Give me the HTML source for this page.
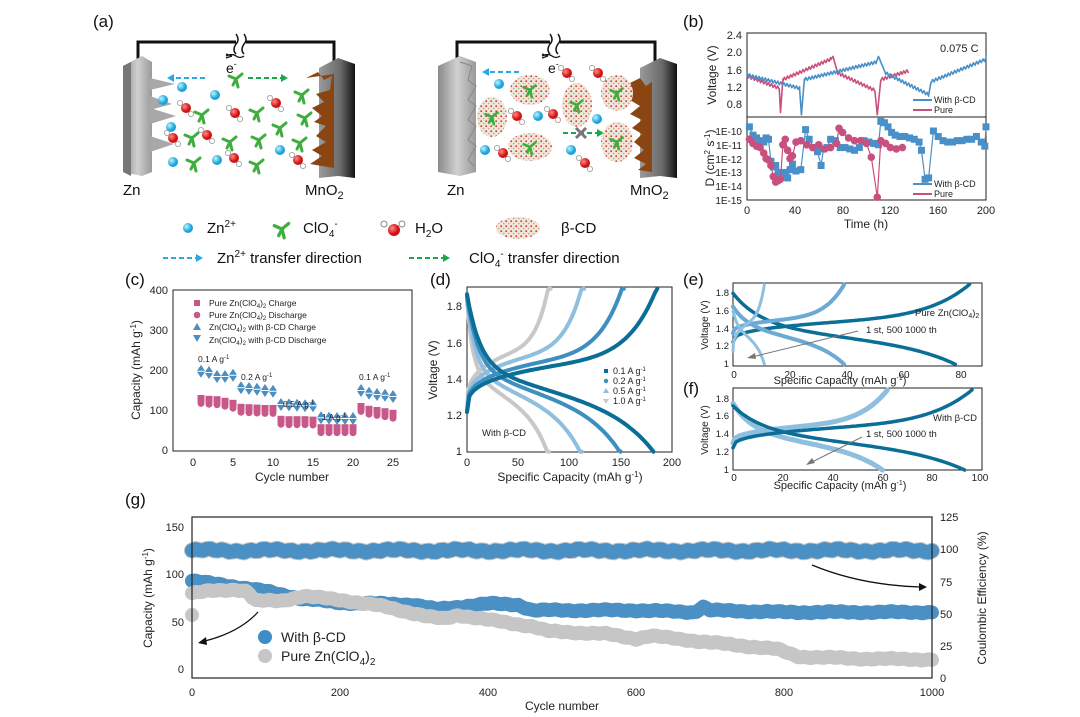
<!DOCTYPE html>
<html><head><meta charset="utf-8"><style>
html,body{margin:0;padding:0;background:#fff;}
svg{display:block;font-family:"Liberation Sans",Arial,sans-serif;}
.t{font-size:11px;fill:#222}
.at{font-size:12px;fill:#222}
.lb{font-size:17px;fill:#111}
.lg{font-size:15px;fill:#111}
</style></head><body>
<svg id="s" width="1080" height="717" viewBox="0 0 1080 717" xmlns="http://www.w3.org/2000/svg">
<defs>
<linearGradient id="gz" x1="0" x2="1"><stop offset="0" stop-color="#8a8a8a"/><stop offset="0.5" stop-color="#d0d0d0"/><stop offset="1" stop-color="#9a9a9a"/></linearGradient>
<linearGradient id="gm" x1="0" x2="1"><stop offset="0" stop-color="#9a9a9a"/><stop offset="0.6" stop-color="#6a6a6a"/><stop offset="1" stop-color="#111"/></linearGradient>
<radialGradient id="gc" cx="0.35" cy="0.35"><stop offset="0" stop-color="#bff3ff"/><stop offset="1" stop-color="#1aa3d8"/></radialGradient>
<radialGradient id="gr" cx="0.35" cy="0.35"><stop offset="0" stop-color="#ff8a8a"/><stop offset="1" stop-color="#d01010"/></radialGradient>
<pattern id="pcd" width="5" height="5" patternUnits="userSpaceOnUse"><rect width="5" height="5" fill="#efe6da"/><circle cx="1.2" cy="1.2" r="0.9" fill="#d43030"/><circle cx="3.7" cy="3.5" r="0.8" fill="#b8a58a"/></pattern>
</defs>
<rect width="1080" height="717" fill="#fff"/>

<!-- (a) -->
<text x="93" y="27" class="lb">(a)</text>
<path d="M138,62 V42 H236 M246,42 H334 V62" stroke="#111" stroke-width="3" fill="none"/>
<path d="M236,34 q4,6 0,10 q-4,6 0,10 M244,34 q4,6 0,10 q-4,6 0,10" stroke="#111" stroke-width="1.5" fill="none"/>
<path d="M457,62 V42 H550 M560,42 H655 V62" stroke="#111" stroke-width="3" fill="none"/>
<path d="M550,34 q4,6 0,10 q-4,6 0,10 M558,34 q4,6 0,10 q-4,6 0,10" stroke="#111" stroke-width="1.5" fill="none"/>
<path d="M232,56 l-6,-2 M232,56 l-6,2 M226,56 q6,-3 10,0 q4,3 8,0" stroke="#111" stroke-width="1.3" fill="none"/>
<text x="226" y="73" font-size="14" fill="#111">e<tspan dy="-6" font-size="9">-</tspan></text>
<path d="M548,56 l-6,-2 M548,56 l-6,2 M542,56 q6,-3 10,0 q4,3 8,0" stroke="#111" stroke-width="1.3" fill="none"/>
<text x="548" y="73" font-size="14" fill="#111">e<tspan dy="-6" font-size="9">-</tspan></text>
<polygon points="123,66 142,56 152,62 152,172 142,176 123,172" fill="url(#gz)"/>
<polygon points="123,66 131,62 131,176 123,172" fill="#777"/>
<g fill="#a8a8a8"><polygon points="150,78 175,84 150,90"/><polygon points="150,96 172,104 150,110"/><polygon points="150,108 176,116 150,124"/><polygon points="150,136 174,144 150,152"/></g>
<polygon points="319,68 338,58 355,64 355,178 338,176 319,178" fill="url(#gm)"/>
<path d="M306,78 l12,-6 l6,8 l8,-4 l-2,14 l-14,4 l8,8 l-12,6 l10,8 l-8,6 l12,4 l-10,10 l10,6 l-14,8 l10,6 l-12,8 l24,4 V74 Z" fill="#8b4513"/>
<polygon points="438,66 460,56 476,62 476,172 460,176 438,172" fill="url(#gz)"/>
<g fill="none" stroke="#888" stroke-width="1"><path d="M460,62 l12,4 l-4,14 l8,6 l-8,14 l8,6 l-8,14 l8,6 l-8,14 l8,6 l-8,14 l6,6"/></g>
<polygon points="640,68 660,58 677,64 677,178 660,176 640,178" fill="url(#gm)"/>
<path d="M628,84 l12,-6 l6,8 l6,-4 v90 l-14,-2 l8,-6 l-12,-6 l10,-8 l-10,-8 l8,-8 l-10,-6 l10,-8 l-12,-6 l10,-8 l-10,-6 Z" fill="#8b4513"/>
<g stroke-width="2" stroke-dasharray="5,3" fill="none">
<path d="M205,78 H172" stroke="#29a9e0"/><path d="M248,78 H282" stroke="#1aa84a"/>
<path d="M519,72 H488" stroke="#29a9e0"/><path d="M563,133 H598" stroke="#1aa84a"/>
</g>
<polygon points="167,78 174,74 174,82" fill="#29a9e0"/><polygon points="288,78 281,74 281,82" fill="#1aa84a"/>
<polygon points="482,72 489,68 489,76" fill="#29a9e0"/><polygon points="604,133 597,129 597,137" fill="#1aa84a"/>
<path d="M576,128 l10,10 M586,128 l-10,10" stroke="#777" stroke-width="3"/>
<g id="ions"></g>
<text x="123" y="195" class="lg">Zn</text>
<text x="305" y="195" class="lg">MnO<tspan dy="4" font-size="11">2</tspan></text>
<text x="447" y="195" class="lg">Zn</text>
<text x="630" y="195" class="lg">MnO<tspan dy="4" font-size="11">2</tspan></text>
<circle cx="188" cy="228" r="5" fill="url(#gc)"/>
<text x="207" y="233" class="lg">Zn<tspan dy="-6" font-size="10">2+</tspan></text>
<g id="lgcl"></g>
<text x="303" y="233" class="lg">ClO<tspan dy="4" font-size="10">4</tspan><tspan dy="-10" font-size="10">-</tspan></text>
<circle cx="384" cy="224" r="3" fill="#fff" stroke="#888"/><circle cx="402" cy="224" r="3" fill="#fff" stroke="#888"/><circle cx="394" cy="230" r="6" fill="url(#gr)"/>
<text x="415" y="233" class="lg">H<tspan dy="4" font-size="10">2</tspan><tspan dy="-4">O</tspan></text>
<ellipse cx="518" cy="228" rx="22" ry="11" fill="url(#pcd)"/>
<text x="561" y="233" class="lg">β-CD</text>
<path d="M163,258 H196" stroke="#29a9e0" stroke-width="2" stroke-dasharray="5,3" fill="none"/><polygon points="203,258 196,254 196,262" fill="#29a9e0"/>
<text x="217" y="263" class="lg">Zn<tspan dy="-6" font-size="10">2+</tspan><tspan dy="6"> transfer direction</tspan></text>
<path d="M409,258 H443" stroke="#1aa84a" stroke-width="2" stroke-dasharray="5,3" fill="none"/><polygon points="450,258 443,254 443,262" fill="#1aa84a"/>
<text x="469" y="263" class="lg">ClO<tspan dy="4" font-size="10">4</tspan><tspan dy="-10" font-size="10">-</tspan><tspan dy="6"> transfer direction</tspan></text>

<!-- (b) -->
<text x="683" y="27" class="lb">(b)</text>
<rect x="747" y="33" width="239" height="84" fill="none" stroke="#222"/>
<rect x="747" y="117" width="239" height="83" fill="none" stroke="#222"/>
<g class="t" text-anchor="end">
<text x="742" y="39">2.4</text><text x="742" y="56">2.0</text><text x="742" y="74">1.6</text><text x="742" y="91">1.2</text><text x="742" y="108">0.8</text>
</g>
<g font-size="10" fill="#222" text-anchor="end">
<text x="742" y="135">1E-10</text><text x="742" y="149">1E-11</text><text x="742" y="163">1E-12</text><text x="742" y="176">1E-13</text><text x="742" y="190">1E-14</text><text x="742" y="204">1E-15</text>
</g>
<g class="t" text-anchor="middle"><text x="747" y="214">0</text><text x="795" y="214">40</text><text x="843" y="214">80</text><text x="890" y="214">120</text><text x="938" y="214">160</text><text x="986" y="214">200</text></g>
<text x="866" y="228" class="at" text-anchor="middle">Time (h)</text>
<text transform="translate(716,75) rotate(-90)" class="at" text-anchor="middle">Voltage (V)</text>
<text transform="translate(714,158) rotate(-90)" class="at" text-anchor="middle">D (cm<tspan dy="-4" font-size="8">2</tspan><tspan dy="4"> s</tspan><tspan dy="-4" font-size="8">-1</tspan><tspan dy="4">)</tspan></text>
<text x="940" y="52" class="t">0.075 C</text>
<g id="pb"></g>
<path d="M913,100 H932" stroke="#4a90c8" stroke-width="2"/><text x="934" y="103" font-size="9" fill="#222">With β-CD</text>
<path d="M913,110 H932" stroke="#c8507f" stroke-width="2"/><text x="934" y="113" font-size="9" fill="#222">Pure</text>
<path d="M913,184 H932" stroke="#4a90c8" stroke-width="2"/><text x="934" y="187" font-size="9" fill="#222">With β-CD</text>
<path d="M913,194 H932" stroke="#c8507f" stroke-width="2"/><text x="934" y="197" font-size="9" fill="#222">Pure</text>

<!-- (c) -->
<text x="125" y="285" class="lb">(c)</text>
<rect x="173" y="290" width="239" height="161" fill="none" stroke="#222"/>
<g class="t" text-anchor="end"><text x="168" y="294">400</text><text x="168" y="334">300</text><text x="168" y="374">200</text><text x="168" y="414">100</text><text x="168" y="454">0</text></g>
<g class="t" text-anchor="middle"><text x="193" y="466">0</text><text x="233" y="466">5</text><text x="273" y="466">10</text><text x="313" y="466">15</text><text x="353" y="466">20</text><text x="393" y="466">25</text></g>
<text x="292" y="481" class="at" text-anchor="middle">Cycle number</text>
<text transform="translate(140,370) rotate(-90)" class="at" text-anchor="middle">Capacity (mAh g<tspan dy="-4" font-size="8">-1</tspan><tspan dy="4">)</tspan></text>
<g id="pc"></g>
<g font-size="8.5" fill="#222">
<text x="209" y="306">Pure Zn(ClO<tspan dy="2" font-size="6">4</tspan><tspan dy="-2">)</tspan><tspan dy="2" font-size="6">2</tspan><tspan dy="-2"> Charge</tspan></text>
<text x="209" y="318">Pure Zn(ClO<tspan dy="2" font-size="6">4</tspan><tspan dy="-2">)</tspan><tspan dy="2" font-size="6">2</tspan><tspan dy="-2"> Discharge</tspan></text>
<text x="209" y="330">Zn(ClO<tspan dy="2" font-size="6">4</tspan><tspan dy="-2">)</tspan><tspan dy="2" font-size="6">2</tspan><tspan dy="-2"> with β-CD Charge</tspan></text>
<text x="209" y="343">Zn(ClO<tspan dy="2" font-size="6">4</tspan><tspan dy="-2">)</tspan><tspan dy="2" font-size="6">2</tspan><tspan dy="-2"> with β-CD Discharge</tspan></text>
<text x="198" y="362">0.1 A g<tspan dy="-3" font-size="6">-1</tspan></text>
<text x="241" y="380">0.2 A g<tspan dy="-3" font-size="6">-1</tspan></text>
<text x="283" y="407">0.5 A g<tspan dy="-3" font-size="6">-1</tspan></text>
<text x="322" y="420">1 A g<tspan dy="-3" font-size="6">-1</tspan></text>
<text x="359" y="380">0.1 A g<tspan dy="-3" font-size="6">-1</tspan></text>
</g>

<!-- (d) -->
<text x="430" y="285" class="lb">(d)</text>
<rect x="467" y="287" width="205" height="165" fill="none" stroke="#222"/>
<g class="t" text-anchor="end"><text x="462" y="310">1.8</text><text x="462" y="347">1.6</text><text x="462" y="383">1.4</text><text x="462" y="419">1.2</text><text x="462" y="455">1</text></g>
<g class="t" text-anchor="middle"><text x="467" y="466">0</text><text x="518" y="466">50</text><text x="569" y="466">100</text><text x="621" y="466">150</text><text x="672" y="466">200</text></g>
<text x="570" y="481" class="at" text-anchor="middle">Specific Capacity (mAh g<tspan dy="-4" font-size="8">-1</tspan><tspan dy="4">)</tspan></text>
<text transform="translate(437,370) rotate(-90)" class="at" text-anchor="middle">Voltage (V)</text>
<g id="pd"></g>
<text x="482" y="436" font-size="9.5" fill="#222">With β-CD</text>
<g font-size="9" fill="#222">
<rect x="604" y="369" width="4" height="4" fill="#0b6e96"/><text x="613" y="374">0.1 A g<tspan dy="-3" font-size="6">-1</tspan></text>
<circle cx="606" cy="381" r="2.2" fill="#3d8fbf"/><text x="613" y="384">0.2 A g<tspan dy="-3" font-size="6">-1</tspan></text>
<polygon points="606,388 609,393 603,393" fill="#8fbedf"/><text x="613" y="394">0.5 A g<tspan dy="-3" font-size="6">-1</tspan></text>
<polygon points="603,399 609,399 606,404" fill="#c8c8c8"/><text x="613" y="404">1.0 A g<tspan dy="-3" font-size="6">-1</tspan></text>
</g>

<!-- (e) -->
<text x="683" y="285" class="lb">(e)</text>
<rect x="733" y="283" width="249" height="83" fill="none" stroke="#222"/>
<g font-size="9.5" fill="#222" text-anchor="end"><text x="729" y="296">1.8</text><text x="729" y="314">1.6</text><text x="729" y="332">1.4</text><text x="729" y="349">1.2</text><text x="729" y="367">1</text></g>
<g font-size="10" fill="#222" text-anchor="middle"><text x="734" y="378">0</text><text x="790" y="378">20</text><text x="847" y="378">40</text><text x="904" y="378">60</text><text x="961" y="378">80</text></g>
<text x="840" y="384" font-size="11" fill="#222" text-anchor="middle">Specific Capacity (mAh g<tspan dy="-4" font-size="7">-1</tspan><tspan dy="4">)</tspan></text>
<text transform="translate(708,325) rotate(-90)" font-size="10" fill="#222" text-anchor="middle">Voltage (V)</text>
<g id="pe"></g>
<text x="915" y="316" font-size="9.5" fill="#222">Pure Zn(ClO<tspan dy="2" font-size="7">4</tspan><tspan dy="-2">)</tspan><tspan dy="2" font-size="7">2</tspan></text>
<text x="866" y="333" font-size="9.5" fill="#222">1 st, 500 1000 th</text>
<path d="M858,331 L752,357" stroke="#777" stroke-width="1"/><polygon points="747,358 755,353 756,359" fill="#777"/>
<!-- (f) -->
<text x="683" y="394" class="lb">(f)</text>
<rect x="733" y="388" width="249" height="82" fill="none" stroke="#222"/>
<g font-size="9.5" fill="#222" text-anchor="end"><text x="729" y="402">1.8</text><text x="729" y="419">1.6</text><text x="729" y="437">1.4</text><text x="729" y="455">1.2</text><text x="729" y="473">1</text></g>
<g font-size="10" fill="#222" text-anchor="middle"><text x="734" y="481">0</text><text x="783" y="481">20</text><text x="833" y="481">40</text><text x="883" y="481">60</text><text x="932" y="481">80</text><text x="980" y="481">100</text></g>
<text x="840" y="489" font-size="11" fill="#222" text-anchor="middle">Specific Capacity (mAh g<tspan dy="-4" font-size="7">-1</tspan><tspan dy="4">)</tspan></text>
<text transform="translate(708,430) rotate(-90)" font-size="10" fill="#222" text-anchor="middle">Voltage (V)</text>
<g id="pf"></g>
<text x="933" y="421" font-size="9.5" fill="#222">With β-CD</text>
<text x="866" y="437" font-size="9.5" fill="#222">1 st, 500 1000 th</text>
<path d="M862,437 L812,462" stroke="#777" stroke-width="1"/><polygon points="806,465 812,458 815,463" fill="#777"/>

<!-- (g) -->
<text x="125" y="505" class="lb">(g)</text>
<g id="pg"></g>
<rect x="192" y="517" width="740" height="161" fill="none" stroke="#222" stroke-width="1.2"/>
<g class="t" text-anchor="end" font-size="12"><text x="184" y="531">150</text><text x="184" y="578">100</text><text x="184" y="626">50</text><text x="184" y="673">0</text></g>
<g class="t" font-size="12"><text x="940" y="521">125</text><text x="940" y="553">100</text><text x="940" y="586">75</text><text x="940" y="618">50</text><text x="940" y="650">25</text><text x="940" y="682">0</text></g>
<g class="t" font-size="12" text-anchor="middle"><text x="192" y="696">0</text><text x="340" y="696">200</text><text x="488" y="696">400</text><text x="636" y="696">600</text><text x="784" y="696">800</text><text x="932" y="696">1000</text></g>
<text x="562" y="710" class="at" text-anchor="middle">Cycle number</text>
<text transform="translate(152,598) rotate(-90)" class="at" text-anchor="middle">Capacity (mAh g<tspan dy="-4" font-size="8">-1</tspan><tspan dy="4">)</tspan></text>
<text transform="translate(986,598) rotate(-90)" class="at" text-anchor="middle">Coulombic Efficiency (%)</text>
<circle cx="265" cy="637" r="7" fill="#3f8cc6"/><text x="281" y="642" font-size="14" fill="#222">With β-CD</text>
<circle cx="265" cy="656" r="7" fill="#c6c6c6"/><text x="281" y="661" font-size="14" fill="#222">Pure Zn(ClO<tspan dy="4" font-size="10">4</tspan><tspan dy="-4">)</tspan><tspan dy="4" font-size="10">2</tspan></text>
<path d="M258,612 Q240,632 205,641" stroke="#111" stroke-width="1.3" fill="none"/><polygon points="198,643 206,637 207,645" fill="#111"/>
<path d="M812,565 Q860,585 920,587" stroke="#111" stroke-width="1.3" fill="none"/><polygon points="927,587 919,583 919,591" fill="#111"/>
</svg>
<script>
function add(id,h){document.getElementById(id).insertAdjacentHTML("beforeend",h);}
function poly(pts,c,w,extra){return '<polyline fill="none" stroke="'+c+'" stroke-width="'+w+'" stroke-linejoin="round" stroke-linecap="round" '+(extra||'')+' points="'+pts.map(function(p){return p[0].toFixed(1)+','+p[1].toFixed(1)}).join(' ')+'"/>';}
function cross(x,y,s){s=s||1;return '<g transform="translate('+x+','+y+') scale('+s+')" stroke="#3fae3f" stroke-width="3" stroke-linecap="round"><path d="M0,0 L-7,-3 M0,0 L6,-5 M0,0 L2,8 M0,0 L-3,6"/></g>';}
function water(x,y){return '<circle cx="'+(x-6)+'" cy="'+(y-5)+'" r="2.6" fill="#fff" stroke="#999" stroke-width="0.8"/><circle cx="'+(x+5)+'" cy="'+(y+6)+'" r="2.6" fill="#fff" stroke="#999" stroke-width="0.8"/><circle cx="'+x+'" cy="'+y+'" r="5" fill="url(#gr)"/>';}
function zn(x,y){return '<circle cx="'+x+'" cy="'+y+'" r="5" fill="url(#gc)"/>';}
var h='';
[[182,87],[163,100],[215,95],[171,127],[173,162],[217,160],[280,150]].forEach(function(p){h+=zn(p[0],p[1]);});
[[236,79],[302,95],[202,115],[257,113],[305,118],[280,128],[192,138],[230,142],[259,140],[300,143],[194,163],[257,165]].forEach(function(p){h+=cross(p[0],p[1]);});
[[186,108],[235,113],[276,103],[207,135],[173,138],[234,158],[298,160]].forEach(function(p){h+=water(p[0],p[1]);});
[[530,90,20,15],[492,117,15,20],[577,105,15,22],[617,93,16,18],[530,147,22,14],[617,142,16,20]].forEach(function(p){h+='<ellipse cx="'+p[0]+'" cy="'+p[1]+'" rx="'+p[2]+'" ry="'+p[3]+'" fill="url(#pcd)"/>'+cross(p[0],p[1],0.9);});
[[499,84],[538,116],[597,119],[485,150],[571,150]].forEach(function(p){h+=zn(p[0],p[1]);});
[[567,73],[598,73],[517,116],[553,114],[503,153],[585,163]].forEach(function(p){h+=water(p[0],p[1]);});
add('ions',h);
add('lgcl',cross(282,229,1.1));
function bx(t){return 747+1.195*t;} function bv(v){return 34.7+(2.4-v)*43.3;} function bd(l){return 131+(-10-l)*13.8;}
function saw(segs){var pts=[];segs.forEach(function(s){var t0=s[0],t1=s[1],v0=s[2],v1=s[3];var n=Math.max(2,Math.round((t1-t0)/1.3));for(var i=0;i<=n;i++){var t=t0+(t1-t0)*i/n;var v=v0+(v1-v0)*i/n;if(s[4])v+=(i%2?0.05:-0.02);pts.push([bx(t),bv(v)]);}});return pts;}
var blue=saw([[0,1,1.5,1.48,0],[1,44,1.45,1.15,1],[44,45.5,1.15,0.55,0],[45.5,48,0.55,1.38,0],[48,108,1.35,1.75,1],[108,110,1.75,1.9,0],[110,116,1.9,1.5,0],[116,152,1.5,1.0,1],[152,154,1.0,1.3,0],[154,200,1.3,1.82,1],[200,200,1.82,1.9,0]]);
var pink=saw([[0,1,1.45,1.42,0],[1,27,1.42,1.15,1],[27,28,1.15,0.6,0],[28,30,0.6,1.38,0],[30,70,1.35,1.82,1],[70,72,1.82,1.9,0],[72,76,1.9,1.5,0],[76,107,1.5,1.1,1],[107,109,1.1,0.55,0],[109,112,0.55,1.35,0],[112,135,1.35,1.55,1]]);
var bh=poly(pink,'#c8507f',1.6)+poly(blue,'#4a90c8',1.6);
var Db=[[2,-9.7],[5,-10.3],[8,-10.5],[11,-10.7],[14,-10.8],[16,-10.5],[18,-10.6],[20,-12.2],[22,-12.6],[24,-12.5],[26,-13.0],[28,-13.1],[30,-13.2],[32,-13.0],[34,-13.4],[36,-12.8],[38,-12.4],[41,-12.9],[45,-12.8],[49,-9.9],[52,-10.6],[56,-11.2],[59,-11.5],[62,-12.5],[64,-11.3],[67,-11.2],[70,-10.6],[74,-10.7],[78,-11.2],[82,-11.2],[86,-11.3],[90,-11.4],[94,-11.2],[98,-10.7],[102,-10.8],[106,-10.9],[110,-11.0],[112,-9.3],[115,-9.4],[118,-9.7],[121,-10.1],[124,-10.3],[128,-10.4],[132,-10.4],[136,-10.5],[140,-10.6],[144,-10.8],[146,-11.4],[149,-13.5],[152,-13.4],[156,-10.0],[160,-10.4],[164,-10.7],[168,-10.8],[172,-10.8],[176,-10.7],[180,-10.7],[184,-10.6],[188,-10.6],[192,-10.4],[196,-10.8],[199,-11.1],[200,-9.7]];
var Dp=[[2,-10.6],[5,-10.9],[8,-11.1],[11,-11.2],[14,-11.6],[16,-12.0],[18,-12.1],[20,-12.5],[22,-13.3],[24,-13.7],[26,-13.6],[28,-13.5],[30,-11.0],[32,-10.6],[34,-11.4],[36,-12.0],[38,-11.8],[41,-10.8],[45,-10.7],[50,-11.0],[55,-11.2],[60,-11.0],[65,-11.3],[70,-11.2],[75,-10.9],[77,-9.8],[80,-10.1],[85,-10.5],[90,-10.7],[95,-10.7],[100,-10.9],[104,-11.9],[109,-14.8],[112,-10.7],[116,-10.9],[120,-11.2],[125,-11.3],[130,-11.2]];
bh+=poly(Db.map(function(p){return[bx(p[0]),bd(p[1])]}),'#4a90c8',1.2);
Db.forEach(function(p){bh+='<rect x="'+(bx(p[0])-3.5)+'" y="'+(bd(p[1])-3.5)+'" width="7" height="7" fill="#4a90c8"/>';});
bh+=poly(Dp.map(function(p){return[bx(p[0]),bd(p[1])]}),'#c8507f',1.2);
Dp.forEach(function(p){bh+='<circle cx="'+bx(p[0])+'" cy="'+bd(p[1])+'" r="3.8" fill="#c8507f"/>';});
add('pb',bh);
function cx(c){return 193+8*c;} function cy(v){return 450-0.4*v;}
var pc=[125,123,122,118,113,103,102,101,100,100,73,72,72,72,71,52,52,52,52,52,105,98,95,92,88];
var bc=[198,195,185,185,188,157,155,153,150,148,115,114,113,112,112,82,81,80,80,80,150,143,140,138,135];
var ch='<rect x="194" y="300" width="6" height="6" fill="#c8578a"/><circle cx="197" cy="315" r="3.3" fill="#c8578a"/><polygon points="197,323 201,330 193,330" fill="#4a8fc4"/><polygon points="193,335 201,335 197,342" fill="#4a8fc4"/>';
pc.forEach(function(v,i){var x=cx(i+1);ch+='<rect x="'+(x-3.5)+'" y="'+(cy(v)-5)+'" width="7" height="7" fill="#c8578a"/><circle cx="'+x+'" cy="'+(cy(v-6)+1)+'" r="3.5" fill="#c8578a"/>';});
bc.forEach(function(v,i){var x=cx(i+1),y=cy(v);ch+='<polygon points="'+x+','+(y-6)+' '+(x+4)+','+(y)+' '+(x-4)+','+y+'" fill="#4a8fc4"/><polygon points="'+(x-4)+','+(y+1)+' '+(x+4)+','+(y+1)+' '+x+','+(y+7)+'" fill="#4a8fc4"/>';});
add('pc',ch);
function dX(q){return 467+1.025*q;} function dY(v){return 451.7-(v-1)*181;}
var dh='';
[[80,'#c8c8c8'],[112,'#8fbedf'],[150,'#3d8fbf'],[182,'#0b6e96']].forEach(function(a){var Q=a[0],c=a[1],ch_=[],dc=[];var s=Q/182;
for(var i=0;i<=80;i++){var x=i/80;var v=1.22+0.32*Math.pow(x,0.3)+0.37*Math.pow(x,7)+(1-s)*0.12*Math.pow(x,0.2);if(v>1.9)v=1.9;ch_.push([dX(Q*1.02*x),dY(v)]);
var w=1.47+0.4*Math.exp(-x/0.07)-0.3*x-0.17*Math.pow(x,6)-(1-s)*0.05;dc.push([dX(Q*x),dY(Math.max(1,Math.min(1.9,w)))]);}
dh+=poly(ch_,c,4)+poly(dc,c,4);});
add('pd',dh);
function curves(id,X,Y,list){var h='';list.forEach(function(a){var Qc=a[0],Qd=a[1],c=a[2],v0=a[3],vd=a[4],w=a[5];var p1=[],p2=[];for(var i=0;i<=80;i++){var x=i/80;var v=v0+(1.55-v0)*Math.pow(x,0.35)+0.35*Math.pow(x,6);p1.push([X(Qc*x),Y(Math.min(1.9,v))]);
var u=1.45+(vd-1.45)*Math.exp(-x/0.12)-0.3*x-0.15*Math.pow(x,6);p2.push([X(Qd*x),Y(Math.max(1,Math.min(1.9,u)))]);}
h+=poly(p1,c,w)+poly(p2,c,w);});add(id,h);}
curves('pe',function(q){return 733+2.85*q},function(v){return 364.3-(v-1)*88.75},[[83,78,'#0b6e96',1.25,1.8,3.5],[39,39,'#6aaad4',1.35,1.65,4],[11,11,'#8fc0e0',1.15,1.6,3]]);
curves('pf',function(q){return 733+2.49*q},function(v){return 470-(v-1)*89},[[62,60,'#8fbedf',1.3,1.75,5],[96,93,'#0b6e96',1.25,1.72,3.5]]);
function gx(c){return 192+0.74*c;} function gc(v){return 669-0.947*v;} function ge(v){return 678-1.288*v;}
function band(f,fy,n,amp){var p=[];for(var i=0;i<=n;i++){var c=1000*i/n;p.push([gx(c),fy(f(c)+(Math.sin(i*1.7)+Math.sin(i*0.37))*amp)]);}return p;}
function interp(pts){return function(c){for(var i=1;i<pts.length;i++){if(c<=pts[i][0]){var a=pts[i-1],b=pts[i];return a[1]+(b[1]-a[1])*(c-a[0])/(b[0]-a[0]);}}return pts[pts.length-1][1];};}
var gh='';
gh+=poly(band(function(){return 99},ge,200,0.8),'#c2c2c2',16);
gh+=poly(band(function(){return 99},ge,200,0.8),'#4a90c4',14);
var fb=interp([[0,93],[50,88],[100,82],[150,74],[200,70],[300,68],[330,63],[400,69],[440,68],[460,62],[600,62],[680,60],[690,66],[700,62],[800,60],[1000,60]]);
var fg=interp([[0,80],[20,82],[60,84],[75,82],[85,72],[120,72],[150,77],[200,73],[260,66],[320,55],[340,53],[360,57],[400,52],[460,45],[480,40],[560,37],[600,32],[620,35],[700,28],[790,21],[820,13],[900,11],[1000,10]]);
gh+=poly(band(fb,gc,220,0.6),'#4a90c4',14);
gh+=poly(band(fg,gc,220,0.6),'#c6c6c6',14);
gh+='<circle cx="192" cy="'+gc(57)+'" r="7" fill="#c6c6c6"/>';
add('pg',gh);
</script>
</body></html>
